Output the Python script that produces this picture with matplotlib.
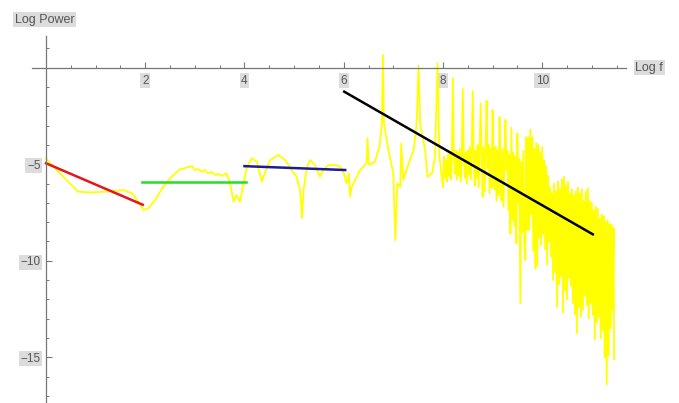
import numpy as np
import matplotlib.pyplot as plt
from matplotlib.ticker import FixedLocator

plt.rcParams['font.family'] = ['Liberation Sans', 'DejaVu Sans']

# spectrum, low-frequency part (log f, log power)
spec_x_lo = [0.0, 0.08, 0.28, 0.48, 0.65, 0.89, 1.22, 1.56, 1.73, 1.86, 1.96, 2.06, 2.2, 2.36,
             2.53, 2.7, 2.8, 2.94, 3.0, 3.07, 3.14, 3.2, 3.27, 3.34, 3.41, 3.48, 3.54, 3.64,
             3.71, 3.78, 3.84, 3.91, 3.98, 4.05, 4.15, 4.25, 4.31, 4.35, 4.42, 4.52, 4.68,
             4.82, 4.95, 5.05, 5.12, 5.16, 5.19, 5.26, 5.32, 5.42, 5.52, 5.59, 5.69, 5.83,
             5.93, 5.99, 6.06, 6.1, 6.13, 6.16, 6.23, 6.33, 6.43, 6.46, 6.48, 6.5, 6.52, 6.63,
             6.72, 6.77, 6.79, 6.81, 6.9, 7.0, 7.04, 7.08, 7.14, 7.16, 7.2, 7.31, 7.41, 7.47,
             7.51, 7.54, 7.64, 7.69, 7.78, 7.84, 7.89, 7.93, 7.97]
spec_y_lo = [-4.69, -4.95, -5.47, -5.99, -6.42, -6.46, -6.42, -6.34, -6.5, -6.94, -7.37, -7.29,
             -6.85, -6.17, -5.65, -5.27, -5.2, -5.1, -5.3, -5.25, -5.39, -5.3, -5.47, -5.4,
             -5.56, -5.5, -5.61, -5.47, -5.99, -6.94, -6.6, -6.94, -5.99, -5.13, -4.69, -4.87,
             -5.47, -5.91, -5.39, -4.78, -4.52, -4.78, -5.3, -5.65, -6.34, -7.8, -6.34, -5.13,
             -4.78, -5.04, -5.65, -5.3, -5.04, -5.04, -5.13, -5.39, -5.99, -5.47, -6.68, -6.17,
             -5.82, -5.3, -5.04, -4.9, -3.66, -4.9, -5.04, -4.87, -4.09, -2.88, 0.66, -2.88,
             -4.26, -5.47, -8.93, -5.99, -6.17, -3.92, -5.82, -4.95, -4.26, -2.88, 0.05, -2.88,
             -4.26, -5.65, -5.47, -4.61, 0.23, -4.61, -5.5]

# spectrum, harmonic comb (8 to 9.7)
spec_x_mid = [8.00, 8.02, 8.04, 8.06, 8.08, 8.10, 8.12, 8.14, 8.16, 8.18, 8.20, 8.22, 8.24,
              8.26, 8.28, 8.30, 8.32, 8.34, 8.36, 8.38, 8.40, 8.42, 8.44, 8.46, 8.48, 8.50,
              8.52, 8.54, 8.56, 8.58, 8.60, 8.62, 8.64, 8.66, 8.68, 8.70, 8.72, 8.74, 8.76,
              8.78, 8.80, 8.82, 8.84, 8.86, 8.88, 8.90, 8.92, 8.94, 8.96, 8.98, 9.00, 9.02,
              9.04, 9.06, 9.08, 9.10, 9.12, 9.14, 9.16, 9.18, 9.20, 9.22, 9.24, 9.26, 9.28,
              9.30, 9.32, 9.34, 9.36, 9.38, 9.40, 9.42, 9.44, 9.46, 9.48, 9.50, 9.52, 9.54,
              9.56, 9.58, 9.60, 9.62, 9.64, 9.66, 9.68, 9.70]
spec_y_mid = [-6.2, -4.6, -5.7, -4.8, -5.9, -4.5, -5.6, -4.4, -5.8, -4.7, -0.55, -4.6, -5.5,
              -4.3, -5.8, -4.4, -5.6, -4.2, -5.9, -4.5, -1.1, -4.6, -5.7, -4.4, -6.0, -4.3,
              -5.5, -4.1, -5.8, -4.4, -1.2, -4.7, -6.1, -4.3, -5.7, -4.0, -6.2, -4.2, -1.85,
              -4.6, -6.7, -4.1, -6.4, -4.3, -1.7, -5.2, -4.0, -6.5, -4.2, -6.2, -2.2, -4.8,
              -6.3, -4.1, -6.9, -4.3, -6.6, -2.55, -5.0, -6.9, -4.2, -7.2, -4.4, -2.7, -5.3,
              -4.3, -7.4, -4.5, -8.6, -3.1, -7.9, -4.4, -8.2, -4.6, -9.1, -3.4, -7.0, -4.7,
              -12.2, -4.9, -8.5, -4.3, -9.0, -9.96, -3.6, -8.4]

# spectrum, noisy tail (9.7 to 11.45)
spec_x_hi = [9.72, 9.74, 9.76, 9.78, 9.80, 9.82, 9.84, 9.86, 9.88, 9.90, 9.92, 9.94, 9.96,
             9.98, 10.00, 10.02, 10.04, 10.06, 10.08, 10.10, 10.12, 10.14, 10.16, 10.18,
             10.20, 10.22, 10.24, 10.26, 10.28, 10.30, 10.32, 10.34, 10.36, 10.38, 10.40,
             10.42, 10.44, 10.46, 10.48, 10.50, 10.52, 10.54, 10.56, 10.58, 10.60, 10.62,
             10.64, 10.66, 10.68, 10.70, 10.72, 10.74, 10.76, 10.78, 10.80, 10.82, 10.84,
             10.86, 10.88, 10.90, 10.92, 10.94, 10.96, 10.98, 11.00, 11.02, 11.04, 11.06,
             11.08, 11.10, 11.12, 11.14, 11.16, 11.18, 11.20, 11.22, 11.24, 11.26, 11.28,
             11.30, 11.32, 11.34, 11.36, 11.38, 11.40, 11.42, 11.44, 11.45]
spec_y_hi = [-3.6, -8.4, -3.2, -7.6, -3.6, -9.5, -4.2, -10.4, -3.9, -10.3, -4.0, -8.8, -4.4,
             -9.2, -4.1, -8.6, -4.8, -9.4, -5.1, -10.2, -5.6, -9.0, -6.2, -9.8, -6.5, -11.0,
             -6.0, -10.6, -6.4, -12.4, -5.9, -11.2, -6.3, -10.8, -5.8, -12.7, -5.65, -11.5,
             -6.1, -12.0, -5.9, -10.9, -6.5, -11.3, -6.3, -12.2, -6.6, -12.8, -6.4, -13.76,
             -6.2, -12.4, -6.5, -12.9, -6.3, -12.55, -6.9, -11.8, -6.4, -12.3, -6.25, -13.0,
             -6.9, -12.2, -7.0, -12.8, -7.4, -14.1, -7.2, -13.2, -7.3, -12.9, -7.8, -14.0,
             -7.6, -13.6, -7.7, -15.0, -8.0, -16.4, -7.9, -14.9, -8.1, -13.5, -8.15, -12.55,
             -8.3, -15.1]

# fitted segments: (x0, x1), (y0, y1)
fit_red = ([0.0, 1.95], [-4.95, -7.1])
fit_green = ([1.93, 4.03], [-5.9, -5.9])
fit_blue = ([4.0, 6.03], [-5.1, -5.3])
fit_black = ([6.01, 11.02], [-1.24, -8.63])

fig = plt.figure(figsize=(6.79, 4.03), dpi=100)
ax = fig.add_axes([0.0473, 0.0, 0.8747, 0.911])

spec_x = spec_x_lo + spec_x_mid + spec_x_hi
spec_y = spec_y_lo + spec_y_mid + spec_y_hi
ax.plot(spec_x, spec_y, color='#ffff00', lw=1.3)
ax.plot(*fit_red, color='#e8141c', lw=1.8)
ax.plot(*fit_green, color='#22e022', lw=1.8)
ax.plot(*fit_blue, color='#1c1c9a', lw=1.8)
ax.plot(*fit_black, color='black', lw=1.8)

ax.set_xlim(-0.28, 11.69)
ax.set_ylim(-17.37, 1.65)

for s in ['top', 'right']:
    ax.spines[s].set_visible(False)
for s in ['left', 'bottom']:
    ax.spines[s].set_position(('data', 0))
    ax.spines[s].set_color('#777777')
    ax.spines[s].set_linewidth(0.9)

ax.xaxis.set_major_locator(FixedLocator([2, 4, 6, 8, 10]))
ax.xaxis.set_minor_locator(FixedLocator([x / 2 for x in range(0, 24) if x % 4 != 0] + [0]))
ax.yaxis.set_major_locator(FixedLocator([-5, -10, -15]))
ax.yaxis.set_minor_locator(FixedLocator([v for v in range(-17, 2) if v % 5 != 0]))

ax.tick_params(which='both', direction='in', color='#777777', labelsize=8.5,
               labelcolor='#555555')
ax.tick_params(which='major', length=4.5, width=0.8)
ax.tick_params(which='minor', length=2.5, width=0.7)
ax.tick_params(axis='x', pad=5)
ax.tick_params(axis='y', pad=4)

for lab in ax.get_xticklabels() + ax.get_yticklabels():
    lab.set_bbox(dict(facecolor='#dcdcdc', edgecolor='none', pad=1.2))

ax.text(11.88, 0, 'Log f', ha='left', va='center', fontsize=9, color='#555555',
        clip_on=False, bbox=dict(facecolor='#dcdcdc', edgecolor='none', pad=1.2))
fig.text(15 / 679, 1 - 19.5 / 403, 'Log Power', ha='left', va='center', fontsize=9,
         color='#555555', bbox=dict(facecolor='#dcdcdc', edgecolor='none', pad=1.2))

fig.savefig('out.png', dpi=100)
